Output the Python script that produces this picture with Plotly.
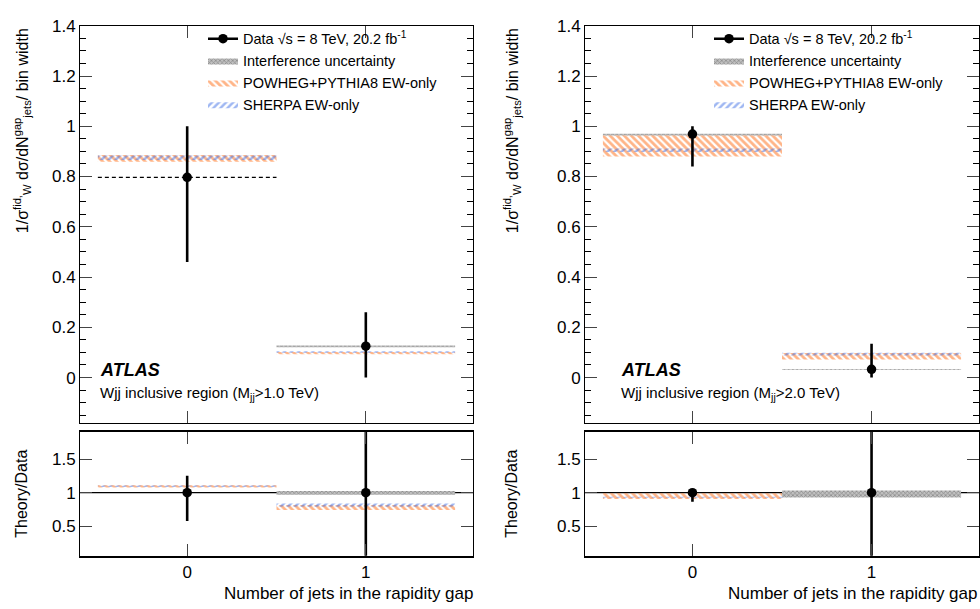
import plotly.graph_objects as go

# ---------------- data ----------------
bin_edges = [-0.5, 0.5, 1.5]
bin_centers = [0, 1]
x_ticks = [0, 1]

# left panel: Wjj inclusive region (Mjj > 1.0 TeV)
L_data = [0.797, 0.125]
L_data_lo = [0.46, 0.0]
L_data_hi = [1.0, 0.26]
L_interf_lo = [None, 0.121]
L_interf_hi = [None, 0.128]
L_powheg_lo = [0.859, 0.093]
L_powheg_hi = [0.886, 0.102]
L_sherpa_lo = [0.866, 0.099]
L_sherpa_hi = [0.884, 0.105]

# right panel: Wjj inclusive region (Mjj > 2.0 TeV)
R_data = [0.969, 0.033]
R_data_lo = [0.84, 0.0]
R_data_hi = [1.0, 0.135]
R_interf_lo = [0.963, 0.0307]
R_interf_hi = [0.970, 0.0341]
R_powheg_lo = [0.880, 0.072]
R_powheg_hi = [0.963, 0.098]
R_sherpa_lo = [0.898, 0.088]
R_sherpa_hi = [0.912, 0.099]

main_yticks = [0, 0.2, 0.4, 0.6, 0.8, 1.0, 1.2, 1.4]
ratio_yticks = [0.5, 1, 1.5]
ratio_yticklabels = ["0.5", "1", "1.5"]

FONT = "Liberation Sans"
ORANGE = "#ff6a10"
BLUE = "#3f6fe6"

fig = go.Figure()


def polygon(lo, hi):
    xs, ys = [], []
    for i in range(len(lo)):
        if lo[i] is None or hi[i] is None:
            continue
        e0, e1 = bin_edges[i], bin_edges[i + 1]
        xs += [e0, e1, e1, e0, e0, None]
        ys += [lo[i], lo[i], hi[i], hi[i], lo[i], None]
    return xs, ys


def ratio(vals, ref):
    return [None if v is None else v / r for v, r in zip(vals, ref)]


def add_band(xa, ya, lo, hi, kind, name, show, legend):
    xs, ys = polygon(lo, hi)
    if kind == "interf":
        pat = dict(shape="x", fgcolor="#4a4a4a", bgcolor="#c0c0c0", size=3, solidity=0.4)
    elif kind == "powheg":
        pat = dict(shape="\\", fgcolor=ORANGE, bgcolor="rgba(0,0,0,0)", size=5, solidity=0.55)
    else:
        pat = dict(shape="/", fgcolor=BLUE, bgcolor="rgba(0,0,0,0)", size=5, solidity=0.5)
    fig.add_trace(go.Scatter(
        x=xs, y=ys, mode="lines", fill="toself", fillpattern=pat,
        fillcolor="rgba(0,0,0,0)", line=dict(width=0, color="rgba(0,0,0,0)"),
        name=name, showlegend=show, legend=legend, xaxis=xa, yaxis=ya,
        legendrank={"interf": 2, "powheg": 3, "sherpa": 4}[kind],
        hoverinfo="skip"))


def add_data(xa, ya, vals, lo, hi):
    fig.add_trace(go.Scatter(
        x=bin_centers, y=vals, mode="markers",
        marker=dict(color="black", size=9.5),
        error_y=dict(type="data", symmetric=False,
                     array=[h - v for h, v in zip(hi, vals)],
                     arrayminus=[v - l for v, l in zip(vals, lo)],
                     color="black", thickness=2.6, width=0),
        showlegend=False, xaxis=xa, yaxis=ya))


names = {"interf": "Interference uncertainty",
         "powheg": "POWHEG+PYTHIA8 EW-only",
         "sherpa": "SHERPA EW-only"}

panels = [
    ("legend", "x", "y", "x2", "y2", L_data, L_data_lo, L_data_hi,
     {"interf": (L_interf_lo, L_interf_hi), "powheg": (L_powheg_lo, L_powheg_hi),
      "sherpa": (L_sherpa_lo, L_sherpa_hi)}),
    ("legend2", "x3", "y3", "x4", "y4", R_data, R_data_lo, R_data_hi,
     {"interf": (R_interf_lo, R_interf_hi), "powheg": (R_powheg_lo, R_powheg_hi),
      "sherpa": (R_sherpa_lo, R_sherpa_hi)}),
]

for (leg, xm, ym, xr, yr, dv, dlo, dhi, bands) in panels:
    # legend proxy for data
    fig.add_trace(go.Scatter(
        x=[None], y=[None], mode="lines+markers", name="Data \u221As = 8 TeV, 20.2 fb<sup>-1</sup>",
        line=dict(color="black", width=2.6), marker=dict(color="black", size=9.5),
        legend=leg, legendrank=1, xaxis=xm, yaxis=ym))
    for kind in ["interf", "powheg", "sherpa"]:
        lo, hi = bands[kind]
        add_band(xm, ym, lo, hi, kind, names[kind], True, leg)
        add_band(xr, yr, ratio(lo, dv), ratio(hi, dv), kind, names[kind], False, leg)
    add_data(xm, ym, dv, dlo, dhi)
    add_data(xr, yr, [1.0, 1.0], ratio(dlo, dv), ratio(dhi, dv))

# dashed central-value line for the first bin of the left panel
fig.add_trace(go.Scatter(
    x=[bin_edges[0], bin_edges[1]], y=[L_data[0], L_data[0]], mode="lines",
    line=dict(color="black", width=1.2, dash="4px,3px"), showlegend=False,
    xaxis="x", yaxis="y"))

W, H = 980, 609
def px(v):
    return v / W
def py(v):
    return 1 - v / H

common_ax = dict(showline=True, linecolor="black", linewidth=1, mirror="allticks",
                 ticks="inside", showgrid=False, zeroline=False,
                 tickfont=dict(family=FONT, size=17, color="black"))

main_y = dict(common_ax, range=[-0.18, 1.4], tickvals=main_yticks, ticklen=12,
              minor=dict(dtick=0.05, tick0=0, ticklen=6, ticks="inside", tickcolor="black"))
ratio_y = dict(common_ax, range=[0.06, 1.91], tickvals=ratio_yticks,
               ticktext=ratio_yticklabels, ticklen=12)
main_x = dict(common_ax, range=[-0.6, 1.6], tickvals=x_ticks, ticklen=12, showticklabels=False)
ratio_x = dict(common_ax, range=[-0.6, 1.6], tickvals=x_ticks, ticklen=12, linewidth=2,
               ticktext=["0", "1"])

Ldom = [px(80), px(473)]
Rdom = [px(585), px(979)]
main_dom = [py(420), py(17)]
ratio_dom = [py(555), py(429)]

legend_common = dict(xanchor="left", yanchor="top", bgcolor="rgba(0,0,0,0)",
                     font=dict(family=FONT, size=14.5, color="black"),
                     itemwidth=30, tracegroupgap=0)

fig.update_layout(
    width=W, height=H, margin=dict(l=0, r=0, t=0, b=0),
    paper_bgcolor="white", plot_bgcolor="white",
    xaxis=dict(main_x, domain=Ldom, anchor="y"),
    yaxis=dict(main_y, domain=main_dom, anchor="x"),
    xaxis2=dict(ratio_x, domain=Ldom, anchor="y2"),
    yaxis2=dict(ratio_y, domain=ratio_dom, anchor="x2"),
    xaxis3=dict(main_x, domain=Rdom, anchor="y3"),
    yaxis3=dict(main_y, domain=main_dom, anchor="x3"),
    xaxis4=dict(ratio_x, domain=Rdom, anchor="y4"),
    yaxis4=dict(ratio_y, domain=ratio_dom, anchor="x4"),
    legend=dict(legend_common, x=px(203), y=py(14)),
    legend2=dict(legend_common, x=px(709), y=py(14)),
    showlegend=True,
)

# unity line in ratio panels
for xr, yr in [("x2", "y2"), ("x4", "y4")]:
    fig.add_shape(type="line", xref=f"{xr} domain", yref=yr, x0=0, x1=1, y0=1, y1=1,
                  line=dict(color="black", width=1.2), layer="below")

ann = []
for x0, mlabel in [(98, "1.0"), (619, "2.0")]:
    ann.append(dict(x=px(x0), y=py(366), xref="paper", yref="paper", xanchor="left",
                    yanchor="middle", showarrow=False, text="<b><i>ATLAS</i></b>",
                    font=dict(family=FONT, size=18, color="black")))
    ann.append(dict(x=px(x0), y=py(390), xref="paper", yref="paper", xanchor="left",
                    yanchor="middle", showarrow=False,
                    text=f"Wjj inclusive region (M<sub>jj</sub>>{mlabel} TeV)",
                    font=dict(family=FONT, size=15, color="black")))
for xt, xe in [(22, 475), (512, 979)]:
    ann.append(dict(x=px(xt), y=py(124), xref="paper", yref="paper", xanchor="center",
                    yanchor="middle", textangle=-90, showarrow=False,
                    text="1/\u03c3<sup>fid,</sup><sub>W</sub> d\u03c3/dN<sup>gap</sup><sub>jets</sub>/ bin width",
                    font=dict(family=FONT, size=16, color="black")))
    ann.append(dict(x=px(xt), y=py(492), xref="paper", yref="paper", xanchor="center",
                    yanchor="middle", textangle=-90, showarrow=False, text="Theory/Data",
                    font=dict(family=FONT, size=16, color="black")))
    ann.append(dict(x=px(xe), y=py(593), xref="paper", yref="paper", xanchor="right",
                    yanchor="middle", showarrow=False, text="Number of jets in the rapidity gap",
                    font=dict(family=FONT, size=17, color="black")))
fig.update_layout(annotations=ann)

fig.write_html("out.html", config={"displayModeBar": False},
               post_script="document.body.style.margin='0px';document.body.style.overflow='hidden';")
